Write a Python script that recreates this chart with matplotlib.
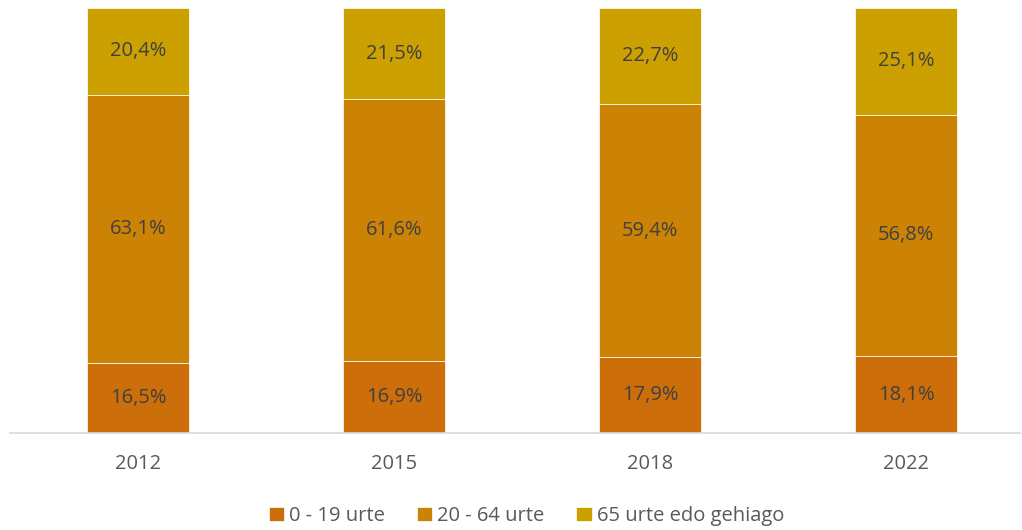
import matplotlib.pyplot as plt
import numpy as np

plt.rcParams['font.family'] = ['Open Sans', 'DejaVu Sans']

# Datuak
years = ['2012', '2015', '2018', '2022']
labels = ['0 - 19 urte', '20 - 64 urte', '65 urte edo gehiago']
young = [16.5, 16.9, 17.9, 18.1]
adult = [63.1, 61.6, 59.4, 56.8]
old = [20.4, 21.5, 22.7, 25.1]
colors = ['#CC6E0A', '#CC8205', '#CCA000']

fig = plt.figure(figsize=(10.22, 5.30), dpi=100)
ax = fig.add_axes([10 / 1022, 97 / 530, 1010 / 1022, 425 / 530])

x = np.arange(len(years))
bottom = np.zeros(len(years))
for vals, col, lab in zip([young, adult, old], colors, labels):
    vals = np.array(vals)
    ax.bar(x, vals, width=0.4, bottom=bottom, color=col, label=lab,
           edgecolor='white', linewidth=0.5)
    for xi, b, v in zip(x, bottom, vals):
        ax.text(xi, b + v / 2, f"{v:.1f}%".replace('.', ','), ha='center', va='center',
                fontsize=14.5, color='#404040')
    bottom += vals

ax.set_xlim(-0.5, 3.445)
ax.set_ylim(0, 100)
ax.set_xticks(x)
ax.set_xticklabels(years, fontsize=14.5, color='#595959')
ax.tick_params(axis='x', length=0, pad=15)
ax.set_yticks([])
for s in ['top', 'right', 'left']:
    ax.spines[s].set_visible(False)
ax.spines['bottom'].set_color('#D9D9D9')
ax.spines['bottom'].set_linewidth(1.2)

leg = fig.legend(loc='center', bbox_to_anchor=(0.515, 14 / 530), ncols=3, frameon=False,
                 fontsize=14.5, handlelength=0.75, handleheight=0.75, handletextpad=0.25,
                 columnspacing=1.6)
for t in leg.get_texts():
    t.set_color('#595959')

plt.savefig('out.png', dpi=100)
